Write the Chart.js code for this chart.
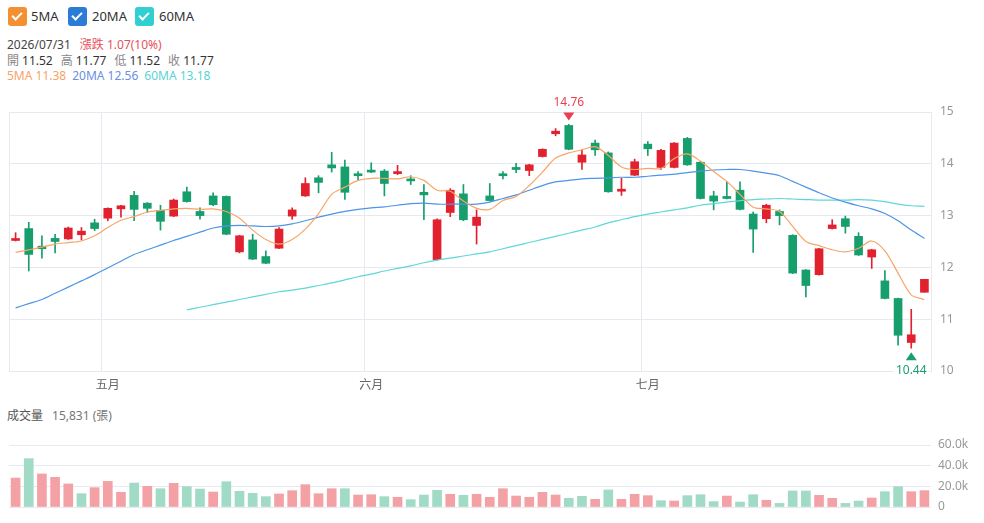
<!DOCTYPE html>
<html>
<head>
<meta charset="utf-8">
<script src="https://cdn.jsdelivr.net/npm/chart.js@4.4.1/dist/chart.umd.min.js"></script>
<style>
  body { margin: 0; background: #fff; width: 984px; height: 523px; overflow: hidden; position: relative;
         font-family: "Noto Sans", "Noto Sans CJK TC", sans-serif; color: #333; }
  .legend { position: absolute; top: 7px; left: 8px; font-size: 13px; }
  .cb { position: absolute; top: 0; width: 19px; height: 19px; border-radius: 3px; }
  .cb::after { content: ''; position: absolute; left: 6px; top: 3px; width: 4px; height: 8px;
               border: solid #fff; border-width: 0 2px 2px 0; transform: rotate(45deg); }
  .lbl { position: absolute; top: 0; line-height: 19px; color: #333; }
  .info { position: absolute; left: 7px; font-size: 12px; line-height: 15px; white-space: nowrap; }
  .k { color: #888; margin-right: 3px; }
  .v { margin-right: 8px; }
  .m { margin-right: 6px; }
  #main { position: absolute; left: 0; top: 90px; }
  #vol { position: absolute; left: 0; top: 430px; }
</style>
</head>
<body>
<div class="legend">
  <div class="cb" style="left:0;background:#f39132"></div><div class="lbl" style="left:23px">5MA</div>
  <div class="cb" style="left:60px;background:#2b7cd6"></div><div class="lbl" style="left:84px">20MA</div>
  <div class="cb" style="left:127px;background:#2fcfd2"></div><div class="lbl" style="left:151px">60MA</div>
</div>
<div class="info" style="top:37px"><span style="color:#444;margin-right:9px">2026/07/31</span><span style="color:#e8505d">漲跌 1.07(10%)</span></div>
<div class="info" style="top:53px"><span class="k">開</span><span class="v">11.52</span><span class="k">高</span><span class="v">11.77</span><span class="k">低</span><span class="v">11.52</span><span class="k">收</span><span>11.77</span></div>
<div class="info" style="top:68px"><span class="m" style="color:#f7a468">5MA 11.38</span><span class="m" style="color:#6a8fe3">20MA 12.56</span><span style="color:#5ad2d6">60MA 13.18</span></div>
<div class="info" style="top:408px"><span style="color:#555;margin-right:9px">成交量</span><span style="color:#777">15,831 (張)</span></div>

<canvas id="main" width="984" height="305"></canvas>
<canvas id="vol" width="984" height="93"></canvas>

<script>
const dates = [
  '2026/04/22','2026/04/23','2026/04/24','2026/04/27','2026/04/28','2026/04/29','2026/04/30',
  '2026/05/04','2026/05/05','2026/05/06','2026/05/07','2026/05/08','2026/05/11','2026/05/12','2026/05/13','2026/05/14','2026/05/15',
  '2026/05/18','2026/05/19','2026/05/20','2026/05/21','2026/05/22','2026/05/25','2026/05/26','2026/05/27','2026/05/28','2026/05/29',
  '2026/06/01','2026/06/02','2026/06/03','2026/06/04','2026/06/05','2026/06/08','2026/06/09','2026/06/10','2026/06/11','2026/06/12',
  '2026/06/15','2026/06/16','2026/06/17','2026/06/18','2026/06/22','2026/06/23','2026/06/24','2026/06/25','2026/06/26','2026/06/29','2026/06/30',
  '2026/07/01','2026/07/02','2026/07/03','2026/07/06','2026/07/07','2026/07/08','2026/07/09','2026/07/10','2026/07/13','2026/07/14','2026/07/15',
  '2026/07/16','2026/07/17','2026/07/20','2026/07/21','2026/07/22','2026/07/23','2026/07/27','2026/07/28','2026/07/29','2026/07/30','2026/07/31'
];
const monthNames = ['一月','二月','三月','四月','五月','六月','七月','八月','九月','十月','十一月','十二月'];

const opens = [12.52,12.75,12.41,12.56,12.55,12.63,12.86,12.95,13.13,13.39,
  13.24,13.10,12.99,13.46,13.08,13.38,13.37,12.30,12.53,12.21,
  12.37,12.99,13.38,13.73,13.98,13.94,13.80,13.87,13.86,13.81,
  13.70,13.45,12.15,13.06,13.42,12.81,13.38,13.80,13.93,13.87,
  14.14,14.58,14.74,14.03,14.40,14.21,13.47,13.78,14.38,13.93,
  13.93,14.49,14.03,13.38,13.37,13.49,13.03,12.94,13.08,12.62,
  11.95,11.86,12.75,12.94,12.60,12.20,11.74,11.40,10.55,11.52];
const highs = [12.67,12.87,12.61,12.64,12.78,12.77,12.93,13.15,13.20,13.47,
  13.25,13.20,13.32,13.55,13.15,13.44,13.38,12.62,12.64,12.32,
  12.77,13.15,13.73,13.77,14.22,14.07,13.85,14.02,13.89,13.97,
  13.77,13.60,12.94,13.52,13.60,13.11,13.62,13.85,14.01,13.99,
  14.29,14.68,14.76,14.27,14.46,14.23,13.72,14.09,14.43,14.28,
  14.41,14.51,14.05,13.47,13.65,13.65,13.07,13.22,13.11,12.63,
  11.96,12.37,12.92,12.99,12.67,12.35,11.94,11.41,11.19,11.77];
const lows = [12.51,11.93,12.18,12.28,12.54,12.53,12.71,12.90,12.97,12.90,
  13.06,12.72,12.98,13.26,12.93,13.19,12.63,12.28,12.15,12.07,
  12.36,12.93,13.37,13.44,13.84,13.31,13.68,13.83,13.38,13.79,
  13.60,12.92,12.14,12.98,12.90,12.45,13.28,13.71,13.83,13.77,
  14.13,14.54,14.27,13.89,14.16,13.45,13.39,13.77,14.16,13.89,
  13.92,13.97,13.32,13.11,13.32,13.11,12.29,12.86,12.82,11.88,
  11.43,11.85,12.74,12.66,12.23,11.98,11.39,10.50,10.44,11.52];
const closes = [12.54,12.25,12.36,12.50,12.76,12.70,12.75,13.14,13.19,13.12,
  13.14,12.89,13.30,13.27,13.00,13.21,12.64,12.61,12.16,12.08,
  12.74,13.11,13.62,13.64,13.92,13.45,13.77,13.84,13.62,13.85,
  13.67,13.40,12.92,13.49,12.92,12.97,13.29,13.77,13.89,13.98,
  14.28,14.63,14.28,14.17,14.27,13.46,13.51,14.04,14.29,14.26,
  14.40,13.98,13.33,13.28,13.33,13.12,12.74,13.20,13.00,11.89,
  11.65,12.36,12.82,12.79,12.24,12.34,11.40,10.69,10.70,11.77];

const ma5 = [12.29,12.34,12.39,12.45,12.48,12.51,12.61,12.77,12.91,12.98,
  13.07,13.10,13.13,13.14,13.12,13.13,13.08,12.95,12.72,12.54,
  12.45,12.54,12.74,13.04,13.41,13.55,13.68,13.72,13.72,13.71,
  13.75,13.68,13.49,13.47,13.28,13.14,13.12,13.29,13.37,13.58,
  13.84,14.11,14.21,14.27,14.33,14.16,13.94,13.89,13.91,13.91,
  14.10,14.19,14.05,13.85,13.66,13.41,13.16,13.13,13.08,12.79,
  12.50,12.42,12.34,12.30,12.37,12.51,12.32,11.89,11.47,11.38];
const ma20 = [11.22,11.30,11.38,11.50,11.62,11.74,11.86,11.99,12.12,12.25,
  12.34,12.43,12.52,12.60,12.68,12.76,12.80,12.81,12.80,12.79,
  12.80,12.84,12.90,12.97,13.03,13.08,13.12,13.15,13.17,13.20,
  13.23,13.24,13.22,13.22,13.22,13.22,13.26,13.33,13.40,13.49,
  13.58,13.65,13.68,13.71,13.72,13.73,13.74,13.74,13.76,13.78,
  13.80,13.83,13.86,13.88,13.89,13.89,13.86,13.82,13.77,13.66,
  13.55,13.44,13.34,13.26,13.19,13.13,13.04,12.90,12.72,12.56];
const ma60 = [null,null,null,null,null,null,null,null,null,null,
  null,null,null,11.18,11.23,11.28,11.33,11.38,11.43,11.48,
  11.53,11.56,11.60,11.65,11.70,11.76,11.82,11.87,11.93,11.98,
  12.03,12.09,12.14,12.18,12.22,12.26,12.30,12.36,12.42,12.48,
  12.54,12.60,12.66,12.72,12.78,12.86,12.92,12.98,13.03,13.07,
  13.11,13.15,13.20,13.23,13.26,13.29,13.31,13.32,13.33,13.32,
  13.31,13.30,13.30,13.30,13.31,13.30,13.27,13.22,13.19,13.18];

const volumes = [28000,46800,32000,28700,22300,12900,18700,24800,14200,23200,
  20000,17700,22900,19700,17400,14500,24500,15200,13200,10000,
  12600,15800,21600,12900,17700,17700,11600,11900,10000,9400,
  7100,11600,16100,12300,11300,12300,9400,17700,10600,9400,
  14200,11600,8400,10300,7400,16500,7400,12300,11000,6100,
  5800,11000,11900,5200,10600,4800,11900,6500,3500,15500,
  15500,11300,8400,3500,5800,8700,14800,19700,14800,15831];

const priceTicks = [10, 11, 12, 13, 14, 15];
const volTicks = [0, 20000, 40000, 60000];

const UP = '#e2212f', DOWN = '#169e6c';
const UP_VOL = '#f4a1a6', DOWN_VOL = '#a1dbc6';

Chart.defaults.font.family = "'Noto Sans', 'Noto Sans CJK TC', sans-serif";
Chart.defaults.font.size = 12;
Chart.defaults.animation = false;

const candleColor = closes.map((c, i) => c >= opens[i] ? UP : DOWN);
const volColor = closes.map((c, i) => (i === 0 || c >= closes[i - 1]) ? UP_VOL : DOWN_VOL);
const bodies = opens.map((o, i) => [Math.min(o, closes[i]), Math.max(o, closes[i])]);
const wicks = lows.map((l, i) => [l, highs[i]]);

const monthStart = dates.map((d, i) => i > 0 && d.slice(5, 7) !== dates[i - 1].slice(5, 7));
const gridCol = '#e6e9f0';

// frame line on the left of the price area
const framePlugin = {
  id: 'frame',
  beforeDatasetsDraw(chart) {
    const { ctx, chartArea: a } = chart;
    ctx.save();
    ctx.strokeStyle = gridCol;
    ctx.lineWidth = 1;
    ctx.beginPath();
    ctx.moveTo(a.left + 0.5, a.top);
    ctx.lineTo(a.left + 0.5, a.bottom);
    ctx.stroke();
    ctx.restore();
  }
};

// high / low markers
const markPlugin = {
  id: 'marks',
  afterDatasetsDraw(chart) {
    const { ctx, scales: { x, y } } = chart;
    let hi = 0, lo = 0;
    highs.forEach((v, i) => { if (v > highs[hi]) hi = i; });
    lows.forEach((v, i) => { if (v < lows[lo]) lo = i; });
    ctx.save();
    ctx.font = "12px 'Noto Sans', sans-serif";
    ctx.textAlign = 'center';
    // high
    let px = x.getPixelForValue(hi), py = y.getPixelForValue(highs[hi]);
    ctx.fillStyle = '#e8404f';
    ctx.beginPath();
    ctx.moveTo(px - 5.5, py - 12);
    ctx.lineTo(px + 5.5, py - 12);
    ctx.lineTo(px, py - 4);
    ctx.closePath();
    ctx.fill();
    ctx.textBaseline = 'alphabetic';
    ctx.fillText(highs[hi].toFixed(2), px, py - 18);
    // low
    px = x.getPixelForValue(lo); py = y.getPixelForValue(lows[lo]);
    ctx.fillStyle = '#1b9e6d';
    ctx.beginPath();
    ctx.moveTo(px - 5.5, py + 12);
    ctx.lineTo(px + 5.5, py + 12);
    ctx.lineTo(px, py + 4);
    ctx.closePath();
    ctx.fill();
    const t = lows[lo].toFixed(2);
    const w = ctx.measureText(t).width;
    ctx.fillStyle = '#fff';
    ctx.fillRect(px - w / 2 - 2, py + 14, w + 4, 14);
    ctx.fillStyle = '#1b9e6d';
    ctx.fillText(t, px, py + 26);
    ctx.restore();
  }
};

new Chart(document.getElementById('main'), {
  type: 'bar',
  data: {
    labels: dates,
    datasets: [
      { type: 'line', label: '5MA', data: ma5, borderColor: '#f7a566', borderWidth: 1.2,
        pointRadius: 0, tension: 0.3, order: 0 },
      { type: 'line', label: '20MA', data: ma20, borderColor: '#4d95e6', borderWidth: 1.2,
        pointRadius: 0, tension: 0.3, order: 0 },
      { type: 'line', label: '60MA', data: ma60, borderColor: '#5fd6d8', borderWidth: 1.2,
        pointRadius: 0, tension: 0.3, order: 0 },
      { label: 'body', data: bodies, backgroundColor: candleColor, barThickness: 8,
        grouped: false, minBarLength: 2, borderWidth: 0, order: 1 },
      { label: 'wick', data: wicks, backgroundColor: candleColor, barThickness: 1,
        grouped: false, borderWidth: 0, order: 2 }
    ]
  },
  options: {
    responsive: false,
    layout: { padding: { top: 22, left: 9, right: 0, bottom: 0 } },
    plugins: { legend: { display: false }, tooltip: { enabled: false } },
    scales: {
      x: {
        offset: true,
        grid: { offset: true, drawTicks: false,
                color: ctx => monthStart[ctx.index] ? gridCol : 'rgba(0,0,0,0)' },
        border: { color: gridCol },
        ticks: { autoSkip: false, maxRotation: 0, padding: 7, color: '#666',
                 callback: (v, i) => monthStart[i] ? monthNames[+dates[i].slice(5, 7) - 1] : '' },
        afterFit: s => { s.height = 24; }
      },
      y: {
        position: 'right', min: 10, max: 15,
        afterBuildTicks: s => { s.ticks = priceTicks.map(v => ({ value: v })); },
        grid: { color: gridCol, drawTicks: false },
        border: { color: gridCol },
        ticks: { color: '#999', padding: 9 },
        afterFit: s => { s.width = 53; }
      }
    }
  },
  plugins: [framePlugin, markPlugin]
});

new Chart(document.getElementById('vol'), {
  type: 'bar',
  data: {
    labels: dates,
    datasets: [{ label: '成交量', data: volumes, backgroundColor: volColor,
                 barThickness: 9, borderWidth: 0 }]
  },
  options: {
    responsive: false,
    layout: { padding: { top: 15, left: 9, right: 0, bottom: 16 } },
    plugins: { legend: { display: false }, tooltip: { enabled: false } },
    scales: {
      x: { display: false, offset: true },
      y: {
        position: 'right', min: 0, max: 60000,
        afterBuildTicks: s => { s.ticks = volTicks.map(v => ({ value: v })); },
        grid: { color: gridCol, drawTicks: false },
        border: { display: false },
        ticks: { color: '#999', padding: 7,
                 callback: v => v === 0 ? '0' : (v / 1000).toFixed(1) + 'k' },
        afterFit: s => { s.width = 53; }
      }
    }
  }
});
</script>
</body>
</html>
